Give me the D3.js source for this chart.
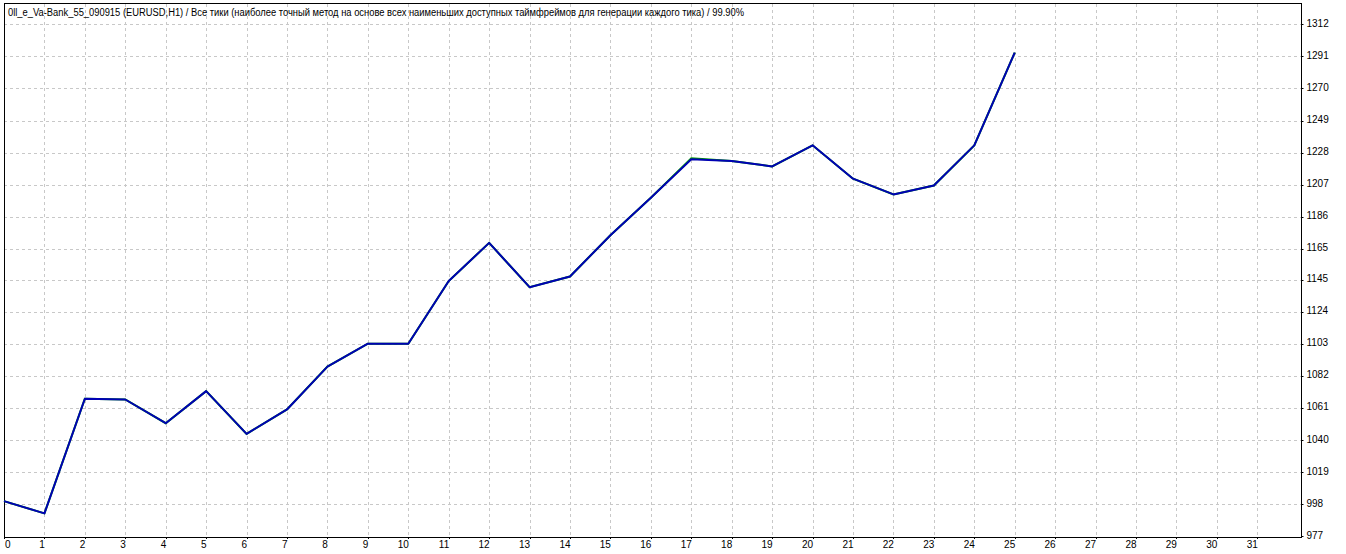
<!DOCTYPE html>
<html>
<head>
<meta charset="utf-8">
<script src="https://cdn.jsdelivr.net/npm/d3@7"></script>
<style>
  body { margin: 0; background: #fff; }
  svg { display: block; }
  .grid line { stroke: #c8c8c8; stroke-dasharray: 3,3; shape-rendering: crispEdges; }
  text { font-family: "Liberation Sans", Arial, sans-serif; font-size: 10px; fill: #000; }
</style>
</head>
<body>
<div id="chart"></div>
<script>
// trade number on x, account balance on y
var titleText = "0ll_e_Va-Bank_55_090915 (EURUSD,H1) / Все тики (наиболее точный метод на основе всех наименьших доступных таймфреймов для генерации каждого тика) / 99.90%";
var trades = d3.range(0, 26);
var balance = [1000, 992, 1067, 1066.5, 1051, 1072, 1044, 1060, 1088, 1103, 1103, 1144, 1169, 1140, 1147,
               1174, 1198.5, 1223.7, 1222.5, 1219, 1232.8, 1211, 1200.7, 1206.5, 1232.8, 1293.5];
var equity  = [1000, 992, 1067, 1066.5, 1051, 1072, 1044, 1060, 1088, 1103, 1103, 1144, 1169, 1140, 1147,
               1174, 1198.5, 1224.4, 1222.5, 1219, 1232.8, 1211, 1200.7, 1206.5, 1232.8, 1293.5];
var xTickLabels = d3.range(0, 32);
var yTickLabels = [977, 998, 1019, 1040, 1061, 1082, 1103, 1124, 1145, 1165, 1186, 1207, 1228, 1249, 1270, 1291, 1312];

var W = 1346, H = 554;
var frame = {left: 4, top: 3.5, right: 1301.5, bottom: 537};

var svg = d3.select("#chart").append("svg")
    .attr("width", W)
    .attr("height", H);

var x = d3.scaleLinear().domain([0, 31]).range([4, 1257.3]);
var y = d3.scaleLinear().domain([977, 1312]).range([536.3, 24.3]);

// grid
var grid = svg.append("g").attr("class", "grid");
grid.selectAll("line.h")
    .data(yTickLabels.slice(1))
    .enter().append("line")
    .attr("class", "h")
    .attr("x1", frame.left)
    .attr("x2", frame.right)
    .attr("y1", function(d) { return Math.round(y(d)) + 0.5; })
    .attr("y2", function(d) { return Math.round(y(d)) + 0.5; });
grid.selectAll("line.v")
    .data(xTickLabels.slice(1))
    .enter().append("line")
    .attr("class", "v")
    .attr("y1", frame.top)
    .attr("y2", frame.bottom)
    .attr("x1", function(d) { return Math.round(x(d)) + 0.5; })
    .attr("x2", function(d) { return Math.round(x(d)) + 0.5; });

// frame
svg.append("rect")
    .attr("x", frame.left + 0.5)
    .attr("y", frame.top)
    .attr("width", frame.right - frame.left - 0.5)
    .attr("height", frame.bottom - frame.top)
    .attr("fill", "none")
    .attr("stroke", "#000")
    .attr("stroke-width", 1)
    .attr("shape-rendering", "crispEdges");

// title
svg.append("text")
    .attr("x", 8)
    .attr("y", 16)
    .attr("textLength", 736)
    .attr("lengthAdjust", "spacingAndGlyphs")
    .text(titleText);

// x axis (labels right aligned on the tick)
var xAxis = svg.append("g");
xAxis.selectAll("line")
    .data(xTickLabels)
    .enter().append("line")
    .attr("x1", function(d) { return Math.round(x(d)) + 0.5; })
    .attr("x2", function(d) { return Math.round(x(d)) + 0.5; })
    .attr("y1", frame.bottom)
    .attr("y2", frame.bottom + 2)
    .attr("stroke", "#000");
xAxis.selectAll("text")
    .data(xTickLabels)
    .enter().append("text")
    .attr("x", function(d) { return d === 0 ? 5 : x(d) + 0.5; })
    .attr("y", 548)
    .attr("text-anchor", function(d) { return d === 0 ? "start" : "end"; })
    .text(function(d) { return d; });

// y axis on the right
var yAxis = svg.append("g");
yAxis.selectAll("line")
    .data(yTickLabels)
    .enter().append("line")
    .attr("x1", frame.right)
    .attr("x2", frame.right + 2)
    .attr("y1", function(d) { return Math.round(y(d)) + 0.5; })
    .attr("y2", function(d) { return Math.round(y(d)) + 0.5; })
    .attr("stroke", "#000");
yAxis.selectAll("text")
    .data(yTickLabels)
    .enter().append("text")
    .attr("x", 1306.5)
    .attr("y", function(d) { return y(d) + 2.5; })
    .text(function(d) { return d; });

// equity (green) under balance (blue)
var line = d3.line()
    .x(function(d, i) { return x(trades[i]); })
    .y(function(d) { return y(d); });

svg.append("path")
    .datum(equity)
    .attr("fill", "none")
    .attr("stroke", "#00a000")
    .attr("stroke-width", 2)
    .attr("d", line);

svg.append("path")
    .datum(balance)
    .attr("fill", "none")
    .attr("stroke", "#0000b4")
    .attr("stroke-width", 2)
    .attr("stroke-linejoin", "round")
    .attr("d", line);
</script>
</body>
</html>
